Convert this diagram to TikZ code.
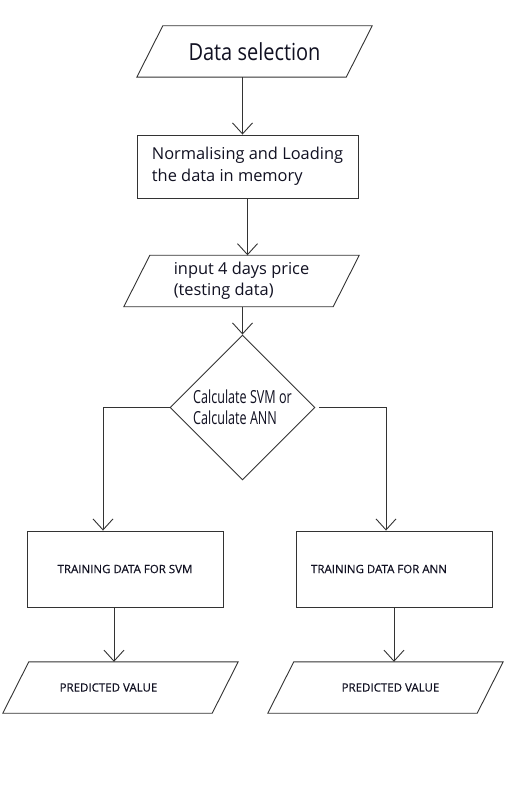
\documentclass[tikz,border=0pt]{standalone}
\usepackage{fontspec}
\setmainfont{Open Sans}
\newfontfamily\condfont[FakeStretch=0.7]{Open Sans}
\newfontfamily\titlefont[FakeStretch=0.85]{Open Sans}
\newfontfamily\capsfont[FakeBold=0.4]{Open Sans}
\usetikzlibrary{shapes.geometric,arrows.meta}
\definecolor{linegray}{HTML}{333333}
\definecolor{textdark}{HTML}{111122}

\tikzset{
	iobox/.style={rectangle,minimum width=209pt,minimum height=51pt,inner sep=0pt,text=textdark},
	outline/.style={draw=linegray,line width=0.9pt,line join=miter},
	stepbox/.style={rectangle,outline,inner sep=0pt,text=textdark},
	choice/.style={diamond,outline,aspect=1,minimum size=145pt,inner sep=0pt,text=textdark},
	flow/.style={-{Straight Barb[length=11pt,width=20pt]},line width=0.9pt,linegray},
	smallcaps/.style={font=\capsfont\fontsize{11.5}{14}\selectfont}
}

\begin{document}
\begin{tikzpicture}[x=1pt,y=-1pt]
			\useasboundingbox[fill=white] (0,0) rectangle (504,791);
			\node[iobox,font=\titlefont\fontsize{23.5}{26}\selectfont] (dsel) at (254.5,51.5) {Data selection};
			\node[stepbox,minimum width=221pt,minimum height=63pt,align=left,font=\fontsize{16.4}{22}\selectfont] (norm) at (247.5,166.5) {Normalising and Loading\\the data in memory};
			\node[iobox,align=left,font=\fontsize{16.4}{21}\selectfont] (inp) at (241.5,281) {input 4 days price\\(testing data)};
			\node[choice,align=left,font=\condfont\fontsize{18}{21}\selectfont] (calc) at (242.5,407.5) {Calculate SVM or\\Calculate ANN};
			\node[stepbox,minimum width=196pt,minimum height=76pt,smallcaps] (trsvm) at (125,569) {TRAINING DATA FOR SVM};
			\node[stepbox,minimum width=196pt,minimum height=76pt,smallcaps] (trann) at (394,569) {TRAINING DATA FOR ANN\hspace*{30pt}};
			\node[iobox,smallcaps] (predsvm) at (120.5,687.5) {PREDICTED VALUE\hspace*{24pt}};
			\node[iobox,smallcaps] (predann) at (385.5,687.5) {\hspace*{10pt}PREDICTED VALUE};

			% slanted outlines of the input/output boxes
			\foreach \n in {dsel,inp,predsvm,predann}
				\draw[outline] ([xshift=13pt]\n.north west) -- ([xshift=13pt]\n.north east) -- ([xshift=-13pt]\n.south east) -- ([xshift=-13pt]\n.south west) -- cycle;

			\draw[flow] (dsel.south -| calc.north) -- (norm.north -| calc.north);
			\draw[flow] (norm.south) -- (norm.south |- inp.north);
			\draw[flow] (inp.south -| calc.north) -- (calc.north);
			\draw[flow] (calc.west) -| ([xshift=-22pt]trsvm.north);
			\draw[flow] ([xshift=4pt]calc.east) -| ([xshift=-8pt]trann.north);
			\draw[flow] ([xshift=-11pt]trsvm.south) -- ([xshift=-11pt]trsvm.south |- predsvm.north);
			\draw[flow] (trann.south) -- (trann.south |- predann.north);
		\end{tikzpicture}
\end{document}
